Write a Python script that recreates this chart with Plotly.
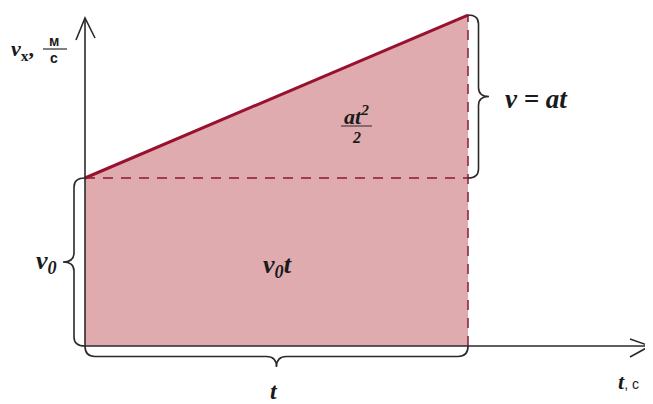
import plotly.graph_objects as go

# ---- data (physical units: time t, velocity v) ----
t_values = [0.0, 1.0]          # start / end time
v_values = [1.0, 1.97]         # v0 and v0 + a*t
v0_label = "<b><i>v<sub>0</sub></i></b>"
vat_label = "<b><i>v = at</i></b>"
area_rect_label = "<b><i>v<sub>0</sub>t</i></b>"
area_tri_num = "<b><i>at<sup>2</sup></i></b>"
area_tri_den = "<b><i>2</i></b>"
t_label = "<b><i>t</i></b>"
x_name = "<b><i>t</i></b><span style='font-family:Liberation Sans;font-size:14px'>, с</span>"
y_name = "<b><i>v</i><sub>x</sub>,</b>"
y_unit_num = "<b>м</b>"
y_unit_den = "<b>с</b>"

# page geometry (page body has an 8px margin)
OFF = 8
W, H = 653, 404
X0PX, Y0PX = 85, 346
SX, SY = 383, 168

def dx(p):  # screen pixel x -> data t
    return (p - X0PX) / SX

def dy(p):  # screen pixel y -> data v
    return (Y0PX - p) / SY

def px(t):
    return X0PX + t * SX

def py(v):
    return Y0PX - v * SY

FILL = "#dfabaf"
RED = "#981230"
DASH = "#8a1a2c"
INK = "#2a2a2a"
SERIF = "Liberation Serif"
SANS = "Liberation Sans"

t0, t1 = t_values
v0, v1 = v_values

fig = go.Figure()
# shaded area under v(t)
fig.add_trace(go.Scatter(x=[t0, t0, t1, t1, t0], y=[0, v0, v1, 0, 0], mode="lines",
                         fill="toself", fillcolor=FILL, line=dict(width=0), hoverinfo="skip"))
# dashed helper lines
fig.add_trace(go.Scatter(x=[t0, t1], y=[v0, v0], mode="lines",
                         line=dict(color=DASH, width=1.5, dash="10px,8px"), hoverinfo="skip"))
fig.add_trace(go.Scatter(x=[t1, t1], y=[0, v1], mode="lines",
                         line=dict(color=DASH, width=1.5, dash="10px,8px"), hoverinfo="skip"))
# velocity line
fig.add_trace(go.Scatter(x=t_values, y=v_values, mode="lines",
                         line=dict(color=RED, width=3), hoverinfo="skip"))

shapes = []

def P(p0, u, n, s, k):
    return (p0[0] + s * u[0] + k * n[0], p0[1] + s * u[1] + k * n[1])

def brace(p0, p1, w, r):
    """p0,p1 in pixel coords; brace bulges to the side of direction p0->p1 by w px"""
    L = ((p1[0] - p0[0]) ** 2 + (p1[1] - p0[1]) ** 2) ** 0.5
    u = ((p1[0] - p0[0]) / L, (p1[1] - p0[1]) / L)
    n = (-u[1], u[0])
    pts = lambda s, k: P(p0, u, n, s, k)
    def c(pt):
        return f"{dx(pt[0]):.5f},{dy(pt[1]):.5f}"
    h = w / 2
    m = L / 2
    d = (f"M {c(pts(0,0))} Q {c(pts(0,h))} {c(pts(r,h))} L {c(pts(m-r,h))} "
         f"Q {c(pts(m,h))} {c(pts(m,w))} Q {c(pts(m,h))} {c(pts(m+r,h))} "
         f"L {c(pts(L-r,h))} Q {c(pts(L,h))} {c(pts(L,0))}")
    return dict(type="path", path=d, xref="x", yref="y", line=dict(color=INK, width=1.6))

# braces (anchored on data points)
shapes.append(brace((px(t1), py(v1)), (px(t1), py(v0)), -21, 9))     # right brace
shapes.append(brace((px(t0), py(v0)), (px(t0), py(0)), 22, 9))       # left brace
shapes.append(brace((px(t0), py(0)), (px(t1), py(0)), 21, 10))       # bottom brace

# axes
shapes.append(dict(type="line", xref="x", yref="y", x0=t0, y0=0, x1=dx(650), y1=0,
                   line=dict(color=INK, width=1.6)))
shapes.append(dict(type="line", xref="x", yref="y", x0=t0, y0=0, x1=t0, y1=dy(18),
                   line=dict(color=INK, width=1.6)))
# arrow heads (chevrons)
def chev(pts):
    d = "M " + " L ".join(f"{dx(a):.5f},{dy(b):.5f}" for a, b in pts)
    return dict(type="path", path=d, xref="x", yref="y", line=dict(color=INK, width=1.6))
shapes.append(chev([(76, 40), (85, 18), (95, 38)]))
shapes.append(chev([(630, 339), (650, 346), (630, 357)]))

# fraction bars
shapes.append(dict(type="line", xref="x", yref="y", x0=dx(341), x1=dx(372), y0=dy(126), y1=dy(126),
                   line=dict(color=INK, width=1)))
shapes.append(dict(type="line", xref="x", yref="y", x0=dx(43), x1=dx(67), y0=dy(49), y1=dy(49),
                   line=dict(color=INK, width=1.2)))

ann = []
def A(x, y, text, size, family=SERIF, xanchor="center"):
    ann.append(dict(x=dx(x), y=dy(y), xref="x", yref="y", text=text, showarrow=False,
                    xanchor=xanchor, yanchor="middle",
                    font=dict(family=family, size=size, color="#1a1a1a")))

A(503, 99, vat_label, 27, xanchor="left")
A(46, 262, v0_label, 26)
A(277, 266, area_rect_label, 26)
A(356, 115, area_tri_num, 22)
A(356, 137, area_tri_den, 16)
A(274, 391, t_label, 24)
A(628, 381, x_name, 22)
A(22, 50, y_name, 22)
A(54, 41, y_unit_num, 14, family=SANS)
A(54, 58, y_unit_den, 14, family=SANS)

fig.update_layout(
    width=W - OFF, height=H - OFF, autosize=False,
    margin=dict(l=0, r=0, t=0, b=0),
    paper_bgcolor="white", plot_bgcolor="white",
    showlegend=False,
    xaxis=dict(visible=False, range=[dx(OFF), dx(W)], fixedrange=True),
    yaxis=dict(visible=False, range=[dy(H), dy(OFF)], fixedrange=True),
    shapes=shapes, annotations=ann,
)

fig.write_html("out.html")
